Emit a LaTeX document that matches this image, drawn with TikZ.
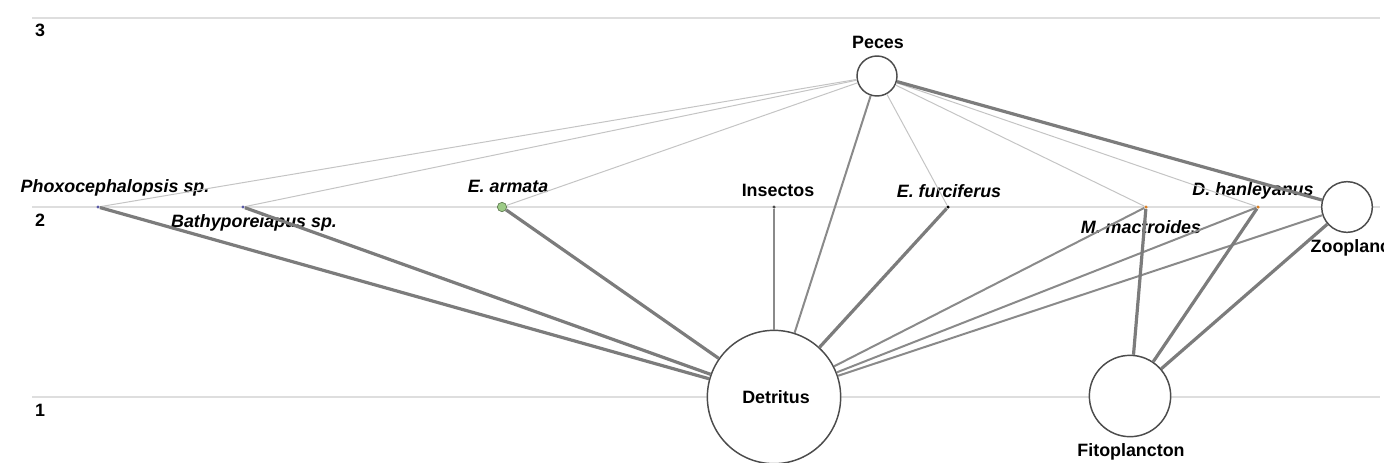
\documentclass[tikz,border=0pt]{standalone}
\usepackage{fontspec}
\setmainfont{Liberation Sans}
\definecolor{gridgray}{HTML}{DEDEDE}
\definecolor{weakgray}{HTML}{C4C4C4}
\definecolor{midgray}{HTML}{8A8A8A}
\definecolor{stronggray}{HTML}{7C7C7C}
\definecolor{armgreen}{HTML}{9CCB86}
\tikzset{
  grid line/.style={gridgray,line width=.9pt},
  weak/.style={weakgray,line width=.75pt},
  medium/.style={midgray,line width=1.5pt},
  strong/.style={stronggray,line width=2.4pt},
  taxon/.style={circle,fill=#1,inner sep=0pt,minimum size=2.6pt},
  taxon/.default={gray!70!blue},
  pool/.style={circle,draw=black!70,line width=1.1pt,fill=white,inner sep=0pt,minimum size=#1},
  lab/.style={font=\fontsize{13.4}{15}\selectfont\bfseries},
  spp/.style={font=\fontsize{13.4}{15}\selectfont\bfseries\itshape}
}
\begin{document}
\begin{tikzpicture}[x=.75pt,y=-.75pt]
\useasboundingbox (0,0) rectangle (1384,462);
% trophic levels
\foreach \lvl/\yy in {3/18,2/207,1/397}
{
    \draw[grid line](32,\yy)--(1380,\yy);
}
\node[lab] at (40,30){3};
\node[lab] at (40,220){2};
\node[lab] at (40,410){1};
% compartments
\node[pool=30pt] (peces) at (877,76){};
\node[pool=38pt] (zoo) at (1347,207){};
\node[pool=100pt] (detritus) at (774,397){};
\node[pool=61pt] (fito) at (1130,396){};
\node[taxon] (phoxo) at (98,207){};
\node[taxon] (bathy) at (243,207){};
\node[taxon=armgreen,draw=armgreen!60!black,line width=.5pt,minimum size=7pt] (armata) at (502,207){};
\node[taxon=black!70] (insectos) at (774,207){};
\node[taxon=black] (furci) at (948,207){};
\node[taxon=orange!70!gray] (mactro) at (1146,207){};
\node[taxon=orange!70!gray] (hanley) at (1258,207){};
% labels
\node[lab] at (878,42){Peces};
\node[spp] at (115,188){Phoxocephalopsis sp.};
\node[spp] at (254,223){Bathyporeiapus sp.};
\node[spp] at (508,186){E. armata};
\node[lab] at (778,190){Insectos};
\node[spp] at (949,191){E. furciferus};
\node[spp] at (1141,227){M. mactroides};
\node[spp] at (1253,191){D. hanleyanus};
\node[lab,anchor=west] at (1306,248){Zooplancton};
\node[lab] at (776,397){Detritus};
\node[lab] at (1131,452){Fitoplancton};
% flows from Peces
\foreach \prey in {phoxo,bathy,armata,furci,mactro,hanley}
{
    \draw[weak](peces)--(\prey);
}
\draw[medium](peces)--(detritus);
\draw[strong](peces)--(zoo);
% flows to Detritus
\foreach \src in {phoxo,bathy,armata,furci}
{
    \draw[strong](\src)--(detritus);
}
\foreach \src in {insectos,mactro,hanley,zoo}
{
    \draw[medium](\src)--(detritus);
}
% flows to Fitoplancton
\foreach \src in {mactro,hanley,zoo}
{
    \draw[strong](\src)--(fito);
}
\end{tikzpicture}
\end{document}
